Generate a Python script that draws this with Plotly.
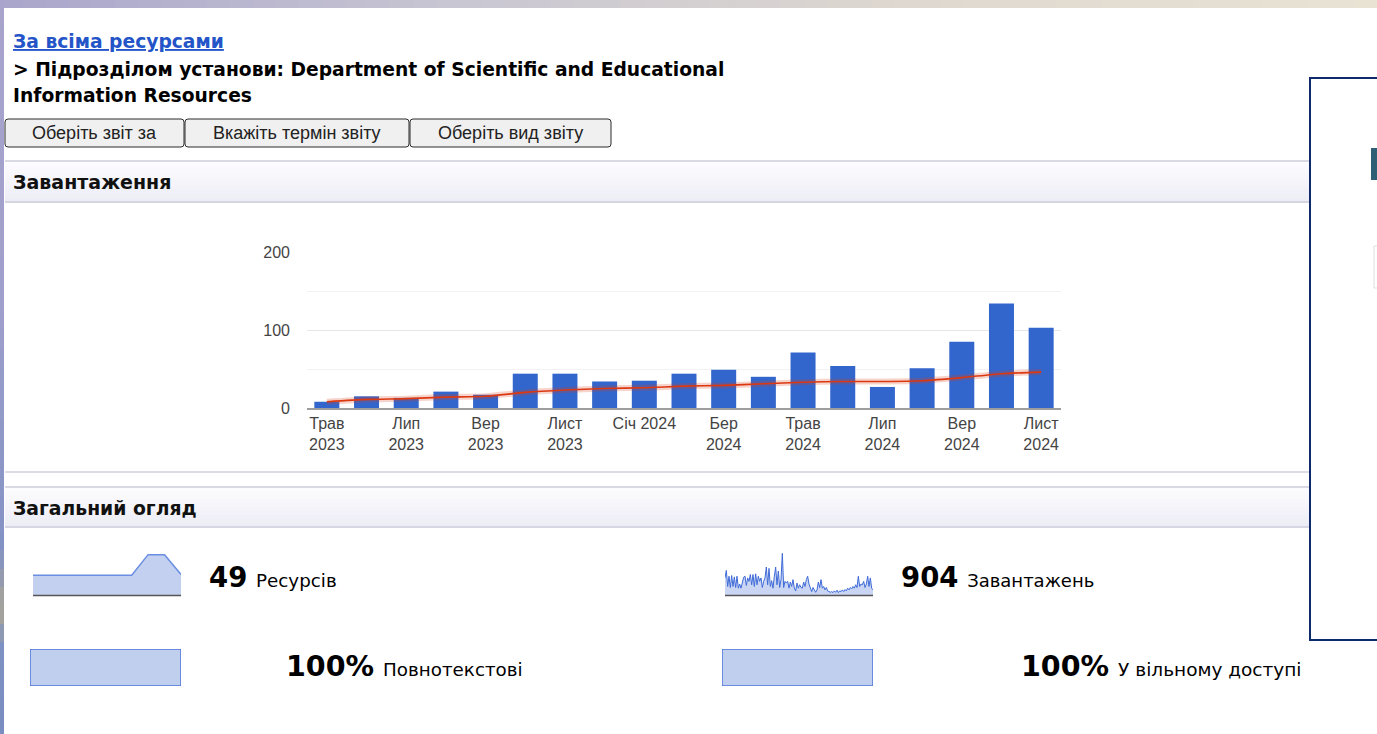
import plotly.graph_objects as go

# ---------------- data ----------------
months = ["Трав 2023", "Черв 2023", "Лип 2023", "Серп 2023", "Вер 2023", "Жовт 2023",
          "Лист 2023", "Груд 2023", "Січ 2024", "Лют 2024", "Бер 2024", "Квіт 2024",
          "Трав 2024", "Черв 2024", "Лип 2024", "Серп 2024", "Вер 2024", "Жовт 2024",
          "Лист 2024"]
downloads = [8, 15, 13, 21, 17, 44, 44, 34, 35, 44, 49, 40, 71, 54, 27, 51, 85, 134, 103]
trend = [8, 11, 12, 14, 15, 20, 23, 25, 26, 28, 29, 31, 33, 34, 34, 35, 39, 44, 46]
tick_months = months[::2]
tick_labels = ["Трав<br>2023", "Лип<br>2023", "Вер<br>2023", "Лист<br>2023", "Січ 2024",
               "Бер<br>2024", "Трав<br>2024", "Лип<br>2024", "Вер<br>2024", "Лист<br>2024"]
y_tick_vals = [0, 100, 200]
y_tick_text = ["0", "100", "200"]

resources_spark = [24, 24, 24, 24, 24, 24, 24, 49, 49, 25]
downloads_spark = [50, 72, 25, 55, 22, 57, 25, 53, 22, 55, 20, 32, 20, 35, 52, 55, 28, 50, 40, 60,
                   30, 60, 25, 62, 30, 55, 40, 50, 22, 40, 50, 82, 30, 78, 25, 42, 20, 55, 82, 30,
                   70, 22, 45, 122, 22, 40, 35, 40, 20, 38, 25, 45, 20, 12, 35, 20, 30, 22, 20, 38,
                   25, 45, 55, 32, 20, 10, 22, 15, 8, 15, 38, 22, 45, 20, 25, 15, 22, 12, 10, 8,
                   10, 7, 12, 8, 14, 7, 12, 10, 15, 10, 16, 12, 20, 15, 22, 18, 25, 20, 30, 22,
                   55, 25, 32, 30, 40, 22, 32, 55, 25, 50, 20, 15]
resources_total = 49
downloads_total = 904
fulltext_pct = 100
open_access_pct = 100

link_text = "За всіма ресурсами"
crumb_lines = ["> Підрозділом установи: Department of Scientific and Educational",
               "Information Resources"]
buttons = ["Оберіть звіт за", "Вкажіть термін звіту", "Оберіть вид звіту"]
section_titles = ["Завантаження", "Загальний огляд"]

# ---------------- helpers ----------------
W, H = 1377, 734


def px(x):
    return x / W


def py(y):
    return 1 - y / H


def lerp_color(stops, t):
    for i in range(len(stops) - 1):
        t0, c0 = stops[i]
        t1, c1 = stops[i + 1]
        if t0 <= t <= t1:
            f = (t - t0) / (t1 - t0) if t1 > t0 else 0
            c = [round(c0[k] + (c1[k] - c0[k]) * f) for k in range(3)]
            return "rgb(%d,%d,%d)" % tuple(c)
    c = stops[-1][1]
    return "rgb(%d,%d,%d)" % tuple(c)


shapes = []
annotations = []


def rect(x0, y0, x1, y1, fill, line_color=None, line_width=0, layer="below"):
    shapes.append(dict(type="rect", xref="paper", yref="paper",
                       x0=px(x0), x1=px(x1), y0=py(y1), y1=py(y0),
                       fillcolor=fill, layer=layer,
                       line=dict(color=line_color or fill, width=line_width)))


def hline(x0, x1, y, color, width=1, layer="below"):
    shapes.append(dict(type="line", xref="paper", yref="paper",
                       x0=px(x0), x1=px(x1), y0=py(y), y1=py(y), layer=layer,
                       line=dict(color=color, width=width)))


def rrect(x0, y0, x1, y1, r, fill, line_color, width=1):
    X0, X1 = px(x0), px(x1)
    Y0, Y1 = py(y0), py(y1)
    rx, ry = r / W, r / H
    path = (f"M{X0+rx},{Y0} L{X1-rx},{Y0} Q{X1},{Y0} {X1},{Y0-ry} "
            f"L{X1},{Y1+ry} Q{X1},{Y1} {X1-rx},{Y1} L{X0+rx},{Y1} "
            f"Q{X0},{Y1} {X0},{Y1+ry} L{X0},{Y0-ry} Q{X0},{Y0} {X0+rx},{Y0} Z")
    shapes.append(dict(type="path", xref="paper", yref="paper", path=path,
                       fillcolor=fill, line=dict(color=line_color, width=width), layer="below"))


def text(x, y, s, size=14, color="#000", family="DejaVu Sans", xanchor="left"):
    annotations.append(dict(x=px(x), y=py(y), xref="paper", yref="paper", text=s,
                            showarrow=False, xanchor=xanchor, yanchor="middle",
                            font=dict(size=size, color=color, family=family)))


# ---------------- page decoration ----------------
top_stops = [(0, (169, 165, 203)), (0.33, (200, 198, 210)), (0.66, (222, 216, 208)), (1, (233, 227, 212))]
n = 60
for i in range(n):
    t = (i + 0.5) / n
    rect(W * i / n, 0, W * (i + 1) / n + 1, 8, lerp_color(top_stops, t))

left_stops = [(0, (168, 164, 204)), (0.4, (160, 160, 204)), (0.75, (130, 146, 196)),
              (0.83, (170, 165, 150)), (0.88, (125, 145, 195)), (1, (120, 140, 192))]
n = 40
for i in range(n):
    t = (i + 0.5) / n
    rect(0, H * i / n, 4, H * (i + 1) / n + 1, lerp_color(left_stops, t))

# section header bands
band_stops = [(0, (253, 253, 255)), (1, (236, 236, 245))]
for (yt, yb) in [(161, 202), (487, 527)]:
    n = 10
    for i in range(n):
        t = (i + 0.5) / n
        y0 = yt + (yb - yt) * i / n
        y1 = yt + (yb - yt) * (i + 1) / n + 0.6
        rect(5, y0, 1310, y1, lerp_color(band_stops, t))
    hline(5, 1310, yt, "#d9d9e4", 2)
    hline(5, 1310, yb, "#d6d6e2", 2)
# bottom border of the chart panel
hline(5, 1310, 472, "#dcdce6", 2)

# right framed box
shapes.append(dict(type="rect", xref="paper", yref="paper",
                   x0=px(1310), x1=px(1385), y0=py(640), y1=py(78),
                   line=dict(color="#0d2b6c", width=2), fillcolor="rgba(0,0,0,0)", layer="above"))
rect(1371, 148, 1377, 180, "#2f5f74")
rect(1374, 246, 1380, 288, "#ffffff", "#dedede", 1)

# buttons
bx = [(5, 184), (185, 409), (410, 611)]
for (x0, x1), label in zip(bx, buttons):
    rrect(x0, 119, x1, 147, 3, "#f0f0f0", "#2b2b2b", 1)
    text((x0 + x1) / 2, 133, label, 18, "#222", "Liberation Sans", "center")

# header texts
text(11, 42, "<b><u>" + link_text + "</u></b>", 18.7, "#2455c8")
text(11, 69, "<b>" + crumb_lines[0] + "</b>", 18.7, "#000")
text(11, 96, "<b>" + crumb_lines[1] + "</b>", 18.7, "#000")
text(11, 182, "<b>" + section_titles[0] + "</b>", 19, "#111")
text(11, 508, "<b>" + section_titles[1] + "</b>", 18.8, "#111")

# stats texts
text(207, 577, f"<b>{resources_total}</b> <span style='font-size:18.3px'>Ресурсів</span>", 27.5)
text(899, 577, f"<b>{downloads_total}</b> <span style='font-size:18px'>Завантажень</span>", 27.5)
text(284, 666, f"<b>{fulltext_pct}%</b> <span style='font-size:18.3px'>Повнотекстові</span>", 28.5)
text(1019, 666, f"<b>{open_access_pct}%</b> <span style='font-size:18.5px'>У вільному доступі</span>", 28.5)

# sparkline baselines
hline(33, 181, 595.5, "#555", 1.5, "above")
hline(725, 873, 595.5, "#555", 1.5, "above")

# ---------------- figure ----------------
fig = go.Figure()

# main chart
fig.add_trace(go.Bar(x=months, y=downloads, marker=dict(color="#3366cc", line=dict(width=0)),
                     xaxis="x", yaxis="y", hoverinfo="skip"))
fig.add_trace(go.Scatter(x=months, y=trend, mode="lines",
                         line=dict(color="rgba(220,57,18,0.22)", width=6, shape="spline", smoothing=0.6),
                         xaxis="x", yaxis="y", hoverinfo="skip"))
fig.add_trace(go.Scatter(x=months, y=trend, mode="lines",
                         line=dict(color="#dc3912", width=1.6, shape="spline", smoothing=0.6),
                         xaxis="x", yaxis="y", hoverinfo="skip"))

# resources sparkline
fig.add_trace(go.Scatter(x=list(range(len(resources_spark))), y=resources_spark, mode="lines",
                         fill="tozeroy", fillcolor="#c3d0f0",
                         line=dict(color="#6a8ee2", width=1.5), xaxis="x2", yaxis="y2", hoverinfo="skip"))
# downloads sparkline
fig.add_trace(go.Scatter(x=list(range(len(downloads_spark))), y=downloads_spark, mode="lines",
                         fill="tozeroy", fillcolor="#c9d5f2",
                         line=dict(color="#3f6bd8", width=1), xaxis="x3", yaxis="y3", hoverinfo="skip"))
# percentage bars
fig.add_trace(go.Bar(x=[fulltext_pct], y=[0], orientation="h", width=1,
                     marker=dict(color="#c0cfee", line=dict(color="#4d75da", width=1.5)),
                     xaxis="x4", yaxis="y4", hoverinfo="skip"))
fig.add_trace(go.Bar(x=[open_access_pct], y=[0], orientation="h", width=1,
                     marker=dict(color="#c0cfee", line=dict(color="#4d75da", width=1.5)),
                     xaxis="x5", yaxis="y5", hoverinfo="skip"))

hidden = dict(visible=False, fixedrange=True, automargin=False)
chart_font = dict(size=16, color="#444", family="Liberation Sans")

fig.update_layout(
    width=W, height=H, autosize=False,
    margin=dict(l=0, r=0, t=0, b=0, pad=0, autoexpand=False),
    paper_bgcolor="white", plot_bgcolor="rgba(0,0,0,0)",
    showlegend=False, bargap=0.37,
    font=dict(family="Liberation Sans", size=14, color="#444"),
    xaxis=dict(domain=[px(307), px(1061)], type="category", categoryorder="array",
               categoryarray=months, tickvals=tick_months, ticktext=tick_labels,
               showgrid=False, showline=True, linecolor="#9e9e9e", linewidth=2,
               ticks="", tickfont=chart_font, automargin=False,
               anchor="y", fixedrange=True, range=[-0.5, 18.5]),
    yaxis=dict(domain=[py(408), py(252)], range=[0, 200], tickvals=y_tick_vals,
               ticktext=y_tick_text, showgrid=True, gridcolor="#e6e6e6", gridwidth=1,
               minor=dict(dtick=50, showgrid=True, gridcolor="#f2f2f2", gridwidth=1),
               zeroline=False, ticks="", ticklabelstandoff=16, automargin=False,
               tickfont=chart_font,
               anchor="x", fixedrange=True),
    xaxis2=dict(domain=[px(33), px(181)], range=[0, len(resources_spark) - 1], anchor="y2", **hidden),
    yaxis2=dict(domain=[py(595), py(553)], range=[0, 51], anchor="x2", **hidden),
    xaxis3=dict(domain=[px(725), px(873)], range=[0, len(downloads_spark) - 1], anchor="y3", **hidden),
    yaxis3=dict(domain=[py(595), py(553)], range=[0, 123], anchor="x3", **hidden),
    xaxis4=dict(domain=[px(30), px(181)], range=[0, 100], anchor="y4", **hidden),
    yaxis4=dict(domain=[py(686), py(649)], range=[-0.5, 0.5], anchor="x4", **hidden),
    xaxis5=dict(domain=[px(722), px(873)], range=[0, 100], anchor="y5", **hidden),
    yaxis5=dict(domain=[py(686), py(649)], range=[-0.5, 0.5], anchor="x5", **hidden),
    shapes=shapes,
    annotations=annotations,
)

post = ("var gd=document.getElementById('{plot_id}');"
        "var h=document.documentElement, b=document.body;"
        "h.style.margin='0';h.style.padding='0';h.style.overflow='hidden';"
        "b.style.margin='0';b.style.padding='0';b.style.overflow='hidden';"
        "gd.style.position='fixed';gd.style.left='0px';gd.style.top='0px';")

fig.write_html("out.html", config={"displayModeBar": False, "staticPlot": True},
               post_script=post)
